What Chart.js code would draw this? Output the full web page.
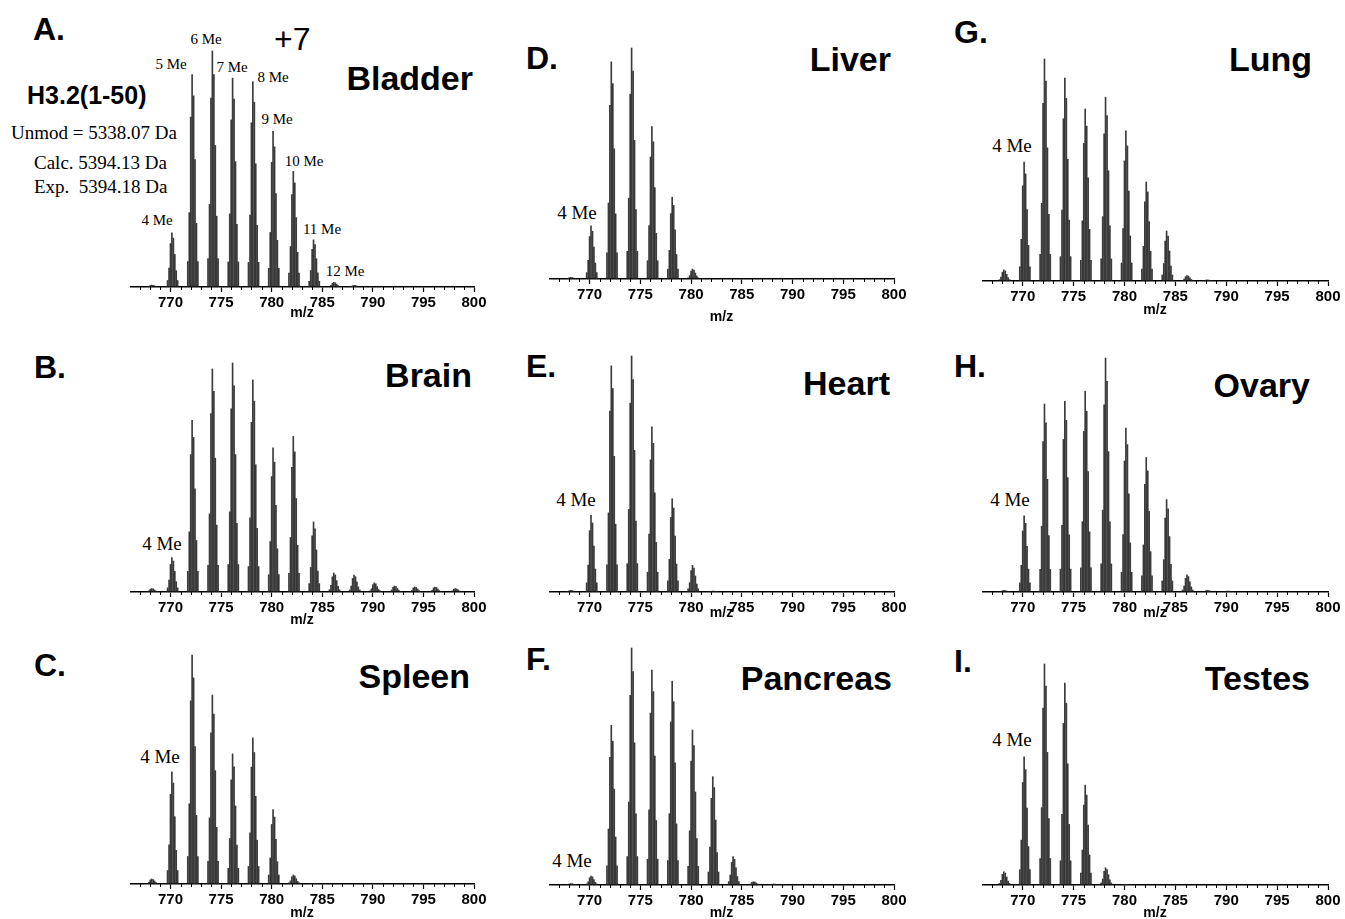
<!DOCTYPE html>
<html lang="en">
  <head>
    <meta charset="UTF-8" />
    <title>H3.2(1-50) methylation across tissues</title>
    <script src="https://cdn.jsdelivr.net/npm/chart.js@4.4.1/dist/chart.umd.min.js"></script>
    <style>
      body { margin: 0; background: #fff; }
      #fig { position: relative; width: 1345px; height: 919px; overflow: hidden; }
      #fig canvas { position: absolute; }
      .t { position: absolute; line-height: 1; white-space: pre; color: #000; }
      .sans { font-family: "Liberation Sans", Arial, sans-serif; }
      .serif { font-family: "Liberation Serif", "Times New Roman", serif; }
      .letter { font-weight: bold; font-size: 32px; }
      .tissue { font-weight: bold; font-size: 34px; }
      .me { font-size: 19px; transform: translate(-50%, -50%); }
      .me.small { font-size: 15px; }
    </style>
  </head>

  <body>
    <div id="fig">
      <!-- Panel letters -->
      <div class="t sans letter" style="left:33px; top:13px">A.</div>
      <div class="t sans letter" style="left:34px; top:351px">B.</div>
      <div class="t sans letter" style="left:34px; top:649px">C.</div>
      <div class="t sans letter" style="left:526px; top:42px">D.</div>
      <div class="t sans letter" style="left:526px; top:350px">E.</div>
      <div class="t sans letter" style="left:526px; top:643px">F.</div>
      <div class="t sans letter" style="left:954px; top:16px">G.</div>
      <div class="t sans letter" style="left:954px; top:350px">H.</div>
      <div class="t sans letter" style="left:954px; top:645px">I.</div>

      <!-- Tissue names -->
      <div class="t sans tissue" style="right:872px; top:61px">Bladder</div>
      <div class="t sans tissue" style="right:873px; top:358px">Brain</div>
      <div class="t sans tissue" style="right:875px; top:659px">Spleen</div>
      <div class="t sans tissue" style="right:454px; top:42px">Liver</div>
      <div class="t sans tissue" style="right:455px; top:366px">Heart</div>
      <div class="t sans tissue" style="right:453px; top:661px">Pancreas</div>
      <div class="t sans tissue" style="right:33px; top:42px">Lung</div>
      <div class="t sans tissue" style="right:35px; top:368px">Ovary</div>
      <div class="t sans tissue" style="right:35px; top:661px">Testes</div>

      <!-- Panel A notes -->
      <div class="t sans" style="left:274px; top:23px; font-size:32px">+7</div>
      <div class="t sans" style="left:27px; top:83px; font-size:25px; font-weight:bold">H3.2(1-50)</div>
      <div class="t serif" style="left:11px; top:123px; font-size:19px">Unmod = 5338.07 Da</div>
      <div class="t serif" style="left:34px; top:153px; font-size:19px">Calc. 5394.13 Da</div>
      <div class="t serif" style="left:34px; top:177px; font-size:19px">Exp.  5394.18 Da</div>

      <!-- Methyl state labels -->
      <div class="t serif me small" style="left:157px; top:220px">4 Me</div>
      <div class="t serif me small" style="left:171px; top:64px">5 Me</div>
      <div class="t serif me small" style="left:206px; top:39px">6 Me</div>
      <div class="t serif me small" style="left:232px; top:67px">7 Me</div>
      <div class="t serif me small" style="left:273px; top:77px">8 Me</div>
      <div class="t serif me small" style="left:277px; top:119px">9 Me</div>
      <div class="t serif me small" style="left:304px; top:161px">10 Me</div>
      <div class="t serif me small" style="left:322px; top:229px">11 Me</div>
      <div class="t serif me small" style="left:345px; top:271px">12 Me</div>
      <div class="t serif me" style="left:162px; top:543px">4 Me</div>
      <div class="t serif me" style="left:160px; top:756px">4 Me</div>
      <div class="t serif me" style="left:577px; top:212px">4 Me</div>
      <div class="t serif me" style="left:576px; top:499px">4 Me</div>
      <div class="t serif me" style="left:572px; top:860px">4 Me</div>
      <div class="t serif me" style="left:1012px; top:145px">4 Me</div>
      <div class="t serif me" style="left:1010px; top:499px">4 Me</div>
      <div class="t serif me" style="left:1012px; top:739px">4 Me</div>
    </div>

    <script>
      // cluster positions (m/z) for 3 Me ... 18 Me, charge +7
      const clusterMz = [768, 770, 772, 774, 776, 778, 780, 782, 784, 786, 788, 790, 792, 794, 796, 798];
      // isotope lines inside one cluster (offset in m/z, relative height)
      const isoOffset = [-0.29, -0.14, 0, 0.14, 0.29, 0.43, 0.57, 0.71];
      const isoRel = [0.12, 0.35, 0.8, 1.0, 0.9, 0.6, 0.3, 0.12];

      // relative intensity of each cluster (% of the tallest line)
      const bladder = [0.8, 23, 90, 100, 88.5, 87, 66, 49, 20, 2, 0.7, 0, 0, 0, 0, 0];
      const brain = [1.5, 15, 75, 97.4, 100, 92.6, 63, 68, 30.6, 8.3, 7.4, 4, 2.6, 2.2, 2.2, 1.5];
      const spleen = [2.2, 49, 100, 82.5, 56.8, 63.8, 32.5, 3.9, 0.3, 0, 0, 0, 0, 0, 0, 0];
      const liver = [0.7, 23, 94, 100, 66, 35.4, 4.3, 0, 0, 0, 0, 0, 0, 0, 0, 0];
      const heart = [0.7, 32.5, 95.8, 100, 70, 39.5, 11.3, 0.4, 0, 0, 0, 0, 0, 0, 0, 0];
      const pancreas = [0.6, 3.8, 67.4, 100, 90.7, 86, 65.4, 45.7, 12, 1.4, 0.4, 0, 0, 0, 0, 0];
      const lung = [5, 53.6, 100, 91.4, 77.5, 82.8, 67.6, 44.6, 22.5, 2.4, 0.5, 0, 0, 0, 0, 0];
      const ovary = [0.7, 32.6, 80.3, 81.5, 85.8, 100, 70, 57.5, 39.5, 7.3, 0.7, 0.4, 0, 0, 0, 0];
      const testes = [6, 58, 100, 91.4, 45.2, 7.8, 0.3, 0, 0, 0, 0, 0, 0, 0, 0, 0];

      const xMin = 766;
      const xMax = 800;
      const majorTicks = [770, 775, 780, 785, 790, 795, 800];

      // where each panel sits on the page
      const panels = [
        { values: bladder, left: 129.5, right: 473.5, axisY: 287, peakPx: 236, mzPad: 15.6 },
        { values: brain, left: 129.5, right: 473.5, axisY: 592, peakPx: 229, mzPad: 13.6 },
        { values: spleen, left: 129.5, right: 473.5, axisY: 884, peakPx: 229, mzPad: 12.6 },
        { values: liver, left: 548.5, right: 893.5, axisY: 279, peakPx: 231, mzPad: 3.6 },
        { values: heart, left: 548.5, right: 893.5, axisY: 592, peakPx: 236, mzPad: 20.6 },
        { values: pancreas, left: 548.5, right: 893.5, axisY: 885, peakPx: 237, mzPad: 13.6 },
        { values: lung, left: 981.5, right: 1327, axisY: 281, peakPx: 222, mzPad: 12.6 },
        { values: ovary, left: 981.5, right: 1327, axisY: 592, peakPx: 234, mzPad: 20.6 },
        { values: testes, left: 981.5, right: 1327, axisY: 885, peakPx: 221, mzPad: 13.6 },
      ];

      const AXIS_H = 50;
      const PAD_R = 20;

      // small unlabeled ticks every 1 m/z
      const minorTicks = {
        id: "minorTicks",
        afterDraw(chart) {
          const x = chart.scales.x;
          const ctx = chart.ctx;
          const y0 = chart.chartArea.bottom;
          ctx.save();
          ctx.strokeStyle = "#000";
          ctx.lineWidth = 1;
          ctx.beginPath();
          for (let v = xMin + 1; v < xMax; v++) {
            if (v % 5 === 0) continue;
            const px = Math.round(x.getPixelForValue(v)) + 0.5;
            ctx.moveTo(px, y0);
            ctx.lineTo(px, y0 + 3);
          }
          ctx.stroke();
          ctx.restore();
        },
      };

      const fig = document.getElementById("fig");

      panels.forEach((p) => {
        const plotH = p.peakPx + 10;
        const canvas = document.createElement("canvas");
        canvas.width = Math.round(p.right - p.left + PAD_R);
        canvas.height = plotH + AXIS_H;
        canvas.style.left = p.left + "px";
        canvas.style.top = p.axisY - plotH + "px";
        fig.appendChild(canvas);

        // one stick per isotope line
        const points = [];
        p.values.forEach((v, i) => {
          if (!v) return;
          isoOffset.forEach((off, j) => {
            points.push({ x: clusterMz[i] + off, y: v * isoRel[j] });
          });
        });

        new Chart(canvas, {
          type: "bar",
          data: {
            datasets: [
              {
                data: points,
                backgroundColor: "rgba(25,25,25,0.85)",
                borderWidth: 0,
                barThickness: 1,
              },
            ],
          },
          plugins: [minorTicks],
          options: {
            responsive: false,
            animation: false,
            events: [],
            layout: { padding: { left: 0, right: PAD_R, top: 0, bottom: 0 }, autoPadding: false },
            plugins: { legend: { display: false }, tooltip: { enabled: false } },
            scales: {
              x: {
                type: "linear",
                offset: false,
                min: xMin,
                max: xMax,
                position: "bottom",
                afterBuildTicks: (scale) => {
                  scale.ticks = majorTicks.map((v) => ({ value: v }));
                },
                afterFit: (scale) => {
                  scale.height = AXIS_H;
                  scale.paddingLeft = 0;
                  scale.paddingRight = 0;
                },
                border: { display: true, color: "#000", width: 1.5 },
                grid: {
                  offset: false,
                  drawOnChartArea: false,
                  drawTicks: true,
                  tickLength: 5,
                  tickColor: "#000",
                  tickWidth: 1.2,
                },
                ticks: {
                  color: "#000",
                  padding: 1.5,
                  maxRotation: 0,
                  autoSkip: false,
                  font: { family: "'Liberation Sans', Arial, sans-serif", weight: "bold", size: 15 },
                },
                title: {
                  display: true,
                  text: "m/z",
                  color: "#000",
                  padding: { top: 0, bottom: p.mzPad },
                  font: { family: "'Liberation Sans', Arial, sans-serif", weight: "bold", size: 14 },
                },
              },
              y: {
                display: false,
                min: 0,
                max: (100 * plotH) / p.peakPx,
              },
            },
          },
        });
      });
    </script>
  </body>
</html>
